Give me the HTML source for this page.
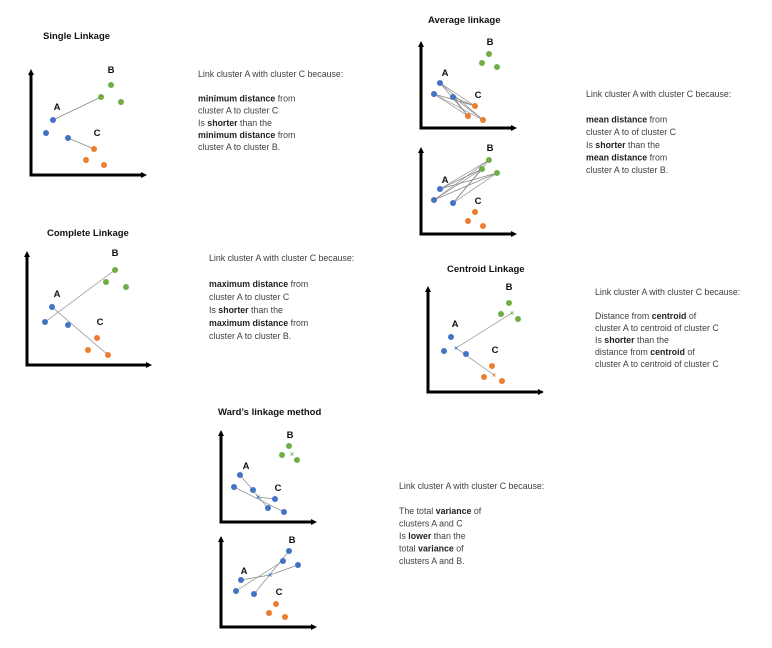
<!DOCTYPE html>
<html><head><meta charset="utf-8"><style>
html,body{margin:0;padding:0;background:#fff;}
svg{display:block;font-family:"Liberation Sans",sans-serif;}
.t{font-size:8.8px;fill:#404040;}
.t tspan.b{font-weight:bold;fill:#222;}
.title{font-size:9.5px;font-weight:bold;fill:#111;}
.lab{font-size:9.5px;font-weight:bold;fill:#111;}
</style></head><body>
<svg id="s" width="772" height="648" viewBox="0 0 772 648">
<defs><marker id="ar" markerWidth="6" markerHeight="6" refX="3" refY="3" orient="auto" markerUnits="userSpaceOnUse"><path d="M0,0 L6,3 L0,6 z" fill="#000"/></marker></defs>
</svg>
<script>
const NS="http://www.w3.org/2000/svg";
const svg=document.getElementById('s');
const COL={A:'#4472c4',B:'#70ad47',C:'#ed7d31'};
const panels=[
 {name:'single-linkage-plot',ax:[31,68,175,148],
  labels:[['A',57,110],['B',111,73],['C',97,136]],
  pts:[['B',111,85],['B',101,97],['B',121,102],['A',53,120],['A',46,133],['A',68,138],['C',94,149],['C',86,160],['C',104,165]],
  lines:[[53,120,101,97],[68,138,94,149]],cross:[]},
 {name:'complete-linkage-plot',ax:[27,250,365,153],
  labels:[['A',57,297],['B',115,256],['C',100,325]],
  pts:[['B',115,270],['B',106,282],['B',126,287],['A',52,307],['A',45,322],['A',68,325],['C',97,338],['C',88,350],['C',108,355]],
  lines:[[45,322,115,270],[52,307,108,355]],cross:[]},
 {name:'average-linkage-plot-ac',ax:[421,40,128,518],
  labels:[['A',445,76],['B',490,45],['C',478,98]],
  pts:[['B',489,54],['B',482,63],['B',497,67],['A',440,83],['A',434,94],['A',453,97],['C',475,106],['C',468,116],['C',483,120]],
  pairs:['A','C'],lines:[],cross:[]},
 {name:'average-linkage-plot-ab',ax:[421,146,234,518],
  labels:[['A',445,183],['B',490,151],['C',478,204]],
  pts:[['B',489,160],['B',482,169],['B',497,173],['A',440,189],['A',434,200],['A',453,203],['C',475,212],['C',468,221],['C',483,226]],
  pairs:['A','B'],lines:[],cross:[]},
 {name:'centroid-linkage-plot',ax:[428,285,392,545],
  labels:[['A',455,327],['B',509,290],['C',495,353]],
  pts:[['B',509,303],['B',501,314],['B',518,319],['A',451,337],['A',444,351],['A',466,354],['C',492,366],['C',484,377],['C',502,381]],
  lines:[[456,348,512,313],[456,348,494,375]],cross:[['B',512,313],['A',456,348],['C',494,375]]},
 {name:'wards-linkage-plot-ac',ax:[221,429,522,318],
  labels:[['A',246,469],['B',290,438],['C',278,491]],
  pts:[['B',289,446],['B',282,455],['B',297,460],['A',240,475],['A',234,487],['A',253,490],['A',275,499],['A',268,508],['A',284,512]],
  lines:[[240,475,268,508],[234,487,284,512],[258,497,275,499]],cross:[['B',292,454],['A',258,497]]},
 {name:'wards-linkage-plot-ab',ax:[221,535,627,318],
  labels:[['A',244,574],['B',292,543],['C',279,595]],
  pts:[['A',289,551],['A',283,561],['A',298,565],['A',241,580],['A',236,591],['A',254,594],['C',276,604],['C',269,613],['C',285,617]],
  lines:[[241,580,270,575],[270,575,298,565],[236,591,283,561],[254,594,289,551]],cross:[['A',270,575]]}
];
function el(tag,attrs,parent){const e=document.createElementNS(NS,tag);for(const k in attrs)e.setAttribute(k,attrs[k]);(parent||svg).appendChild(e);return e;}
panels.forEach(p=>{
 const g=el('g',{});
 
 
 const [x,yt,yb,xr]=p.ax;
 const ya=el('line',{x1:x,y1:yb+1.5,x2:x,y2:yt+4,stroke:'#000','stroke-width':3,'marker-end':'url(#ar)'},g);
 
 
 const xa=el('line',{x1:x-1.5,y1:yb,x2:xr-4,y2:yb,stroke:'#000','stroke-width':3,'marker-end':'url(#ar)'},g);
 
 
 let lines=p.lines.slice();
 if(p.pairs){const a=p.pts.filter(q=>q[0]===p.pairs[0]),b=p.pts.filter(q=>q[0]===p.pairs[1]);a.forEach(u=>b.forEach(v=>lines.push([u[1],u[2],v[1],v[2]])));}
 lines.forEach(l=>{const e=el('line',{x1:l[0],y1:l[1],x2:l[2],y2:l[3],stroke:'#888','stroke-width':0.7},g);
  
  });
 p.pts.forEach(q=>{const c=el('circle',{cx:q[1],cy:q[2],r:3,fill:COL[q[0]]},g);
  
  });
 p.cross.forEach(q=>{const t=el('text',{x:q[1],y:q[2]+2.5,'text-anchor':'middle','font-size':7,'font-weight':'bold',fill:COL[q[0]]},g);t.textContent='×';
  
  });
 p.labels.forEach(q=>{const t=el('text',{x:q[1],y:q[2],'text-anchor':'middle','class':'lab'},g);t.textContent=q[0];
  
  });
});
const titles=[['Single Linkage',43,39],['Complete Linkage',47,236],['Average linkage',428,23],['Centroid Linkage',447,272],['Ward\u2019s linkage method',218,415]];
titles.forEach(t=>{const e=el('text',{x:t[1],y:t[2],'class':'title'});e.textContent=t[0];
 
 });
const blocks=[
 [198,77,12.2,['Link cluster A with cluster C because:','',[['minimum distance',1],[' from',0]],'cluster A to cluster C',[['Is ',0],['shorter',1],[' than the',0]],[['minimum distance',1],[' from',0]],'cluster A to cluster B.']],
 [209,261,13,['Link cluster A with cluster C because:','',[['maximum distance',1],[' from',0]],'cluster A to cluster C',[['Is ',0],['shorter',1],[' than the',0]],[['maximum distance',1],[' from',0]],'cluster A to cluster B.']],
 [586,97,12.7,['Link cluster A with cluster C because:','',[['mean distance',1],[' from',0]],'cluster A to of cluster C',[['Is ',0],['shorter',1],[' than the',0]],[['mean distance',1],[' from',0]],'cluster A to cluster B.']],
 [595,295,12,['Link cluster A with cluster C because:','',[['Distance from ',0],['centroid',1],[' of',0]],'cluster A to centroid of cluster C',[['Is ',0],['shorter',1],[' than the',0]],[['distance from ',0],['centroid',1],[' of',0]],'cluster A to centroid of cluster C']],
 [399,489,12.5,['Link cluster A with cluster C because:','',[['The total ',0],['variance',1],[' of',0]],'clusters A and C',[['Is ',0],['lower',1],[' than the',0]],[['total ',0],['variance',1],[' of',0]],'clusters A and B.']]
];
blocks.forEach(b=>{
 const t=el('text',{x:b[0],y:b[1],'class':'t'});
 
 
 b[3].forEach((ln,i)=>{
  const y=b[1]+i*b[2];
  if(ln==='')return;
  const segs=typeof ln==='string'?[[ln,0]]:ln;
  segs.forEach((s,j)=>{const ts=el('tspan',j===0?{x:b[0],y:y}:{},t);if(s[1])ts.setAttribute('class','b');ts.textContent=s[0];});
 });
});
</script>
</body></html>
